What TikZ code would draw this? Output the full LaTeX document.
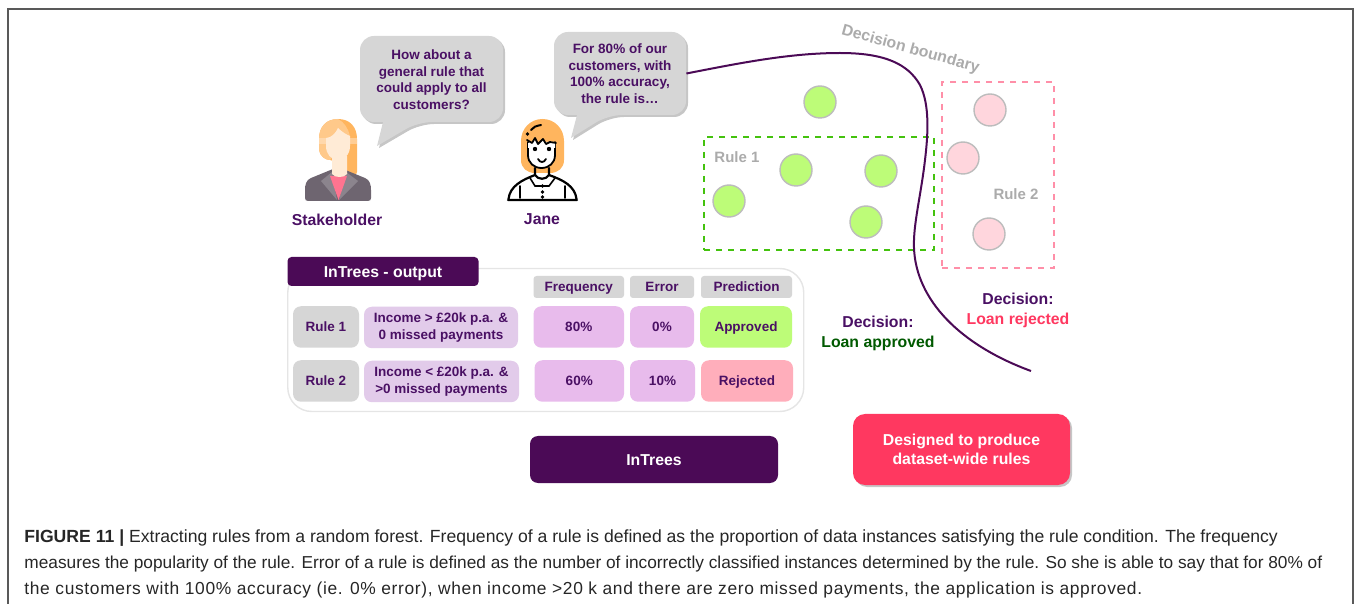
\documentclass[tikz,border=0pt]{standalone}
\usepackage{fontspec}
\setmainfont{Liberation Sans}
\usetikzlibrary{shadows}
\definecolor{inkpurple}{HTML}{4A1064}
\definecolor{darkpurple}{HTML}{4B0A56}
\definecolor{boxgrey}{HTML}{D6D6D6}
\definecolor{labelgrey}{HTML}{ABABAB}
\definecolor{applegreen}{HTML}{BDFC78}
\definecolor{dashgreen}{HTML}{44C20E}
\definecolor{dashpink}{HTML}{FF8FA8}
\definecolor{softpink}{HTML}{FFD6DD}
\definecolor{condlilac}{HTML}{E2CBEA}
\definecolor{ratelilac}{HTML}{E8BBEC}
\definecolor{rejectpink}{HTML}{FFAEBB}
\definecolor{loudred}{HTML}{FF3860}
\definecolor{hairorange}{HTML}{FFB55E}
\definecolor{hairlight}{HTML}{FFC98A}
\definecolor{skin}{HTML}{FFEBD6}
\definecolor{jacket}{HTML}{6E6570}
\tikzset{
  txt/.style={font=\bfseries\fontsize{6.75}{8.3}\selectfont,text=inkpurple,align=center,inner sep=0pt},
  cell/.style={txt,rounded corners=4pt,minimum height=20.75pt},
  linecell/.style={cell,text height=5pt,text depth=.3pt},
  headcell/.style={txt,fill=boxgrey,rounded corners=1.5pt,minimum height=11pt,text height=5pt,text depth=.3pt},
  bigtxt/.style={txt,font=\bfseries\fontsize{7.9}{9.6}\selectfont},
  say/.style={fill=boxgrey,rounded corners=7pt,drop shadow={opacity=.45,shadow xshift=1pt,shadow yshift=-1pt}},
  dotgreen/.style={circle,draw=labelgrey!80,line width=.7pt,fill=applegreen,minimum size=16pt,inner sep=0pt},
  dotpink/.style={circle,draw=labelgrey!80,line width=.7pt,fill=softpink,minimum size=16pt,inner sep=0pt},
  greytxt/.style={font=\bfseries\fontsize{7.5}{8.6}\selectfont,text=labelgrey,inner sep=0pt},
  capline/.style={anchor=base west,inner sep=0pt,text=black!85},
}
\begin{document}
\begin{tikzpicture}[x=.5pt,y=-.5pt]
\useasboundingbox (0,0) rectangle (1356,604);
\draw[black!65,line width=.6pt] (8,604) -- (8,9) -- (1353,9) -- (1353,604);

% speech bubbles
\path[say] [rounded corners=7pt] (360,36) -- (503,36) -- (503,122) -- (418,122)
      [sharp corners] -- (377,146) -- (383,122) [rounded corners=7pt] -- (360,122) -- cycle;
\path[say] [rounded corners=7pt] (554,32) -- (686,32) -- (686,115) -- (608,115)
      [sharp corners] -- (571,138) -- (577,115) [rounded corners=7pt] -- (554,115) -- cycle;
\node[txt,minimum width=71.5pt,minimum height=43pt] (asksay) at (431.5,79.5)
  {How about a\\general rule that\\could apply to all\\customers?};
\node[txt,minimum width=66pt,minimum height=41.5pt] (janesay) at (620,73.5)
  {For 80\% of our\\customers, with\\100\% accuracy,\\the rule is…};

% stakeholder
\fill[hairorange] (338,119) .. controls (326,119) and (319,127) .. (319,139) -- (319,150)
      .. controls (320,156) and (325,160) .. (330,160) -- (345,165) -- (347,172)
      .. controls (350,177) and (357,178) .. (357,172) -- (357,139) .. controls (357,127) and (350,119) .. (338,119) -- cycle;
\fill[hairlight] (338,119) .. controls (326,119) and (319,127) .. (319,139) -- (319,150)
      .. controls (320,156) and (325,160) .. (330,160) -- (350,136) .. controls (348,128) and (344,122) .. (338,119) -- cycle;
\fill[jacket] (333,169) -- (343,169) -- (365,178) .. controls (370,180) and (371,185) .. (371,190)
      -- (371,198) .. controls (371,200) and (370,201) .. (368,201) -- (308,201) .. controls (306,201) and (305,200) .. (305,198)
      -- (305,190) .. controls (305,185) and (306,180) .. (311,178) -- cycle;
\fill[jacket!80!white] (332,172) -- (321,181) -- (337,200) -- cycle;
\fill[jacket!80!white] (346,172) -- (358,181) -- (339,200) -- cycle;
\fill[loudred!70!white] (330,176) -- (347,176) -- (338.5,200) -- cycle;
\fill[skin] (332,156) -- (347,156) -- (347,174) .. controls (345,178) and (334,178) .. (332,174) -- cycle;
\fill[skin] (326,138) .. controls (331,138) and (336,133) .. (338,128) .. controls (342,132) and (347,135) .. (350,136)
      -- (350,146) .. controls (350,155) and (344,160) .. (338,160) .. controls (331,160) and (326,154) .. (326,146) -- cycle;
\fill[skin,opacity=.45] (319,138) rectangle (357,144);
\node[bigtxt] (stakeholder) at (337,220) {Stakeholder};

% jane
\fill[hairorange] (542.5,119) .. controls (530,119) and (521,129) .. (521,141) -- (521,160)
      .. controls (521,168) and (527,173) .. (535,173) -- (550,173) .. controls (558,173) and (564,168) .. (564,160)
      -- (564,141) .. controls (564,129) and (555,119) .. (542.5,119) -- cycle;
\draw[black,line width=.9pt,line cap=round,line join=round,fill=white] (528,142) -- (528,155) .. controls (528,163) and (534,168) .. (541.5,168)
      .. controls (549,168) and (555,163) .. (555,155) -- (555,142);
\fill[white] (528,143) -- (532,143) -- (535,138) -- (538,144) -- (543,139) -- (546,144) -- (555,143) -- (555,148) -- (528,148) -- cycle;
\draw[black,line width=.9pt,line cap=round,line join=round] (527,140) -- (532,143) -- (535,138) -- (538,144) -- (543,139) -- (546,144) -- (550,142) -- (556,143);
\draw[black,line width=1pt,line cap=round] (531,130) .. controls (533,127) and (536,126) .. (541,125);
\fill[black] (527.5,134) circle (.9pt);
\fill[black] (535,149) circle (1.1pt) (549,149) circle (1.1pt);
\draw[black,line width=.9pt,line cap=round] (538,159) .. controls (540,163) and (544,163) .. (546,159);
\fill[white] (510,199) .. controls (510,187) and (520,181) .. (535,176) -- (550,176) .. controls (565,181) and (576,187) .. (576,199) -- cycle;
\draw[black,line width=1.1pt,line cap=round,line join=round] (508,200) -- (577,200)
      (508.5,199) .. controls (510,186) and (522,180) .. (535,175) -- (535,168)
      (576.5,199) .. controls (575,186) and (563,180) .. (549,175) -- (549,168)
      (535,175) .. controls (538,180) and (546,180) .. (549,175);
\draw[black,line width=.8pt,line cap=round] (520,186) -- (520,198) (565,186) -- (565,198)
      (530,178) -- (535,186) -- (549,186) -- (555,178);
\fill[black] (542.5,186) circle (.9pt) (542.5,192) circle (.9pt) (542.5,197) circle (.9pt);
\node[bigtxt] (jane) at (542,219) {Jane};

% rule regions
\node[draw=dashgreen,dashed,line width=.8pt,minimum width=115pt,minimum height=56.5pt,inner sep=0pt] (ruleonebox) at (819,193.5) {};
\node[draw=dashpink,dashed,line width=.8pt,minimum width=56pt,minimum height=93pt,inner sep=0pt] (ruletwobox) at (998,175) {};
\node[dotgreen] (greena) at (820,102) {};
\node[dotgreen] (greenb) at (796,170) {};
\node[dotgreen] (greenc) at (881,171) {};
\node[dotgreen] (greend) at (729,201) {};
\node[dotgreen] (greene) at (866,222) {};
\node[dotpink] (pinka) at (990,110) {};
\node[dotpink] (pinkb) at (963,158) {};
\node[dotpink] (pinkc) at (989,234) {};
\node[greytxt] (ruleonetxt) at (737,157) {Rule 1};
\node[greytxt] (ruletwotxt) at (1016,194) {Rule 2};
\node[greytxt,font=\bfseries\fontsize{7.9}{9}\selectfont,rotate=-15.5] (boundarytxt) at (910.5,49.5) {Decision boundary};

% boundary
\coordinate (boundaryend) at (1031,371);
\draw[darkpurple,line width=1pt] (janesay.east) .. controls (740,63) and (790,53) .. (840,53)
      .. controls (885,53) and (908,64) .. (920,85) .. controls (930,105) and (928,135) .. (925,160)
      .. controls (921,195) and (913,225) .. (914,248) .. controls (916,300) and (960,345) .. (boundaryend);

% table
\node[draw=black!10,line width=.7pt,fill=white,rounded corners=12pt,minimum width=258pt,minimum height=71.5pt,inner sep=0pt] (outputbox) at (545.75,340) {};
\node[fill=darkpurple,rounded corners=2pt,text=white,font=\bfseries\fontsize{7.9}{9}\selectfont,minimum width=95.5pt,minimum height=14.5pt,inner sep=0pt,text height=5.8pt,text depth=.2pt] (outputtitle) at (383,271.5) {InTrees - output};
\node[headcell,minimum width=45.25pt] (headfreq) at (578.75,287) {Frequency};
\node[headcell,minimum width=32pt] (headerr) at (662,287) {Error};
\node[headcell,minimum width=45.5pt] (headpred) at (746.5,287) {Prediction};
\node[linecell,fill=boxgrey,minimum width=33pt] (ruleone) at (326,327) {Rule 1};
\node[cell,fill=condlilac,minimum width=77pt] (condone) at (441,327.5) {Income > £20k p.a. \&\\0 missed payments};
\node[linecell,fill=ratelilac,minimum width=45.25pt] (freqone) at (578.75,327) {80\%};
\node[linecell,fill=ratelilac,minimum width=32pt] (errone) at (662,327) {0\%};
\node[linecell,fill=applegreen,minimum width=46pt] (predone) at (746,327) {Approved};
\node[linecell,fill=boxgrey,minimum width=33pt] (ruletwo) at (326,381) {Rule 2};
\node[cell,fill=condlilac,minimum width=77.5pt] (condtwo) at (441.5,381.5) {Income < £20k p.a. \&\\>0 missed payments};
\node[linecell,fill=ratelilac,minimum width=44.75pt] (freqtwo) at (579.25,381) {60\%};
\node[linecell,fill=ratelilac,minimum width=32.5pt] (errtwo) at (662.5,381) {10\%};
\node[linecell,fill=rejectpink,minimum width=46pt] (predtwo) at (747,381) {Rejected};

% decisions
\node[bigtxt] (decisionyes) at (878,333.5) {Decision:\\\textcolor{green!35!black}{Loan approved}};
\node[bigtxt] (decisionno) at (1018,310.5) {Decision:\\\textcolor{loudred}{Loan rejected}};

% bottom boxes
\node[fill=darkpurple,rounded corners=4pt,text=white,font=\bfseries\fontsize{7.9}{9}\selectfont,minimum width=124pt,minimum height=23.5pt,inner sep=0pt,text height=5.8pt,text depth=.2pt] (intrees) at (654,459.5) {InTrees};
\node[fill=loudred,rounded corners=6pt,text=white,align=center,font=\bfseries\fontsize{7.9}{9.6}\selectfont,minimum width=108.5pt,minimum height=35.5pt,inner sep=0pt,drop shadow={opacity=.45,shadow xshift=1pt,shadow yshift=-1pt}] (designed) at (961.5,449.5) {Designed to produce\\dataset-wide rules};

% caption
\node[capline,font=\fontsize{8.8}{10}\selectfont] (capa) at (24,542.5) {\textbf{FIGURE 11 |} Extracting rules from a random forest. Frequency of a rule is defined as the proportion of data instances satisfying the rule condition. The frequency};
\node[capline,font=\fontsize{8.64}{10}\selectfont] (capb) at (24,568.5) {measures the popularity of the rule. Error of a rule is defined as the number of incorrectly classified instances determined by the rule. So she is able to say that for 80\% of};
\node[capline,font=\fontsize{8.7}{10}\selectfont\addfontfeature{LetterSpace=3.8}] (capc) at (24,594.5) {the customers with 100\% accuracy (ie. 0\% error), when income >20 k and there are zero missed payments, the application is approved.};
\end{tikzpicture}
\end{document}
